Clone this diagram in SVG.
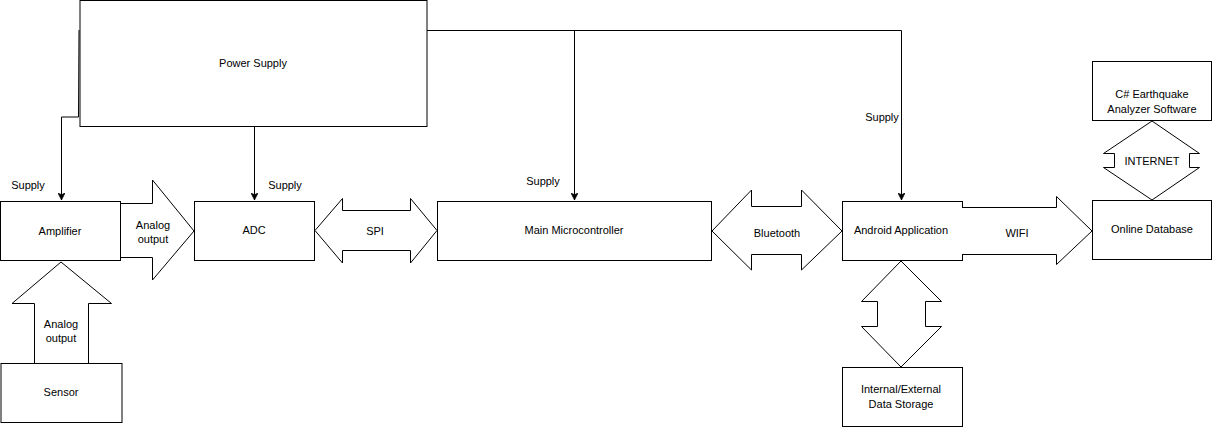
<svg xmlns="http://www.w3.org/2000/svg" width="1212" height="428" viewBox="0 0 1212 428">
<defs>
<style>
.box{fill:#fff;stroke:#000;stroke-width:1}
.arr{fill:#fff;stroke:#000;stroke-width:1;stroke-linejoin:miter}
.ln{fill:none;stroke:#000;stroke-width:1}
text{font-family:"Liberation Sans",Arial,sans-serif;font-size:11px;fill:#000;text-anchor:middle}
</style>
<marker id="ah" viewBox="0 0 10 10" refX="10" refY="5" markerWidth="7" markerHeight="7" orient="auto" markerUnits="userSpaceOnUse">
<path d="M0,0 L10,5 L0,10 L2.5,5 Z" fill="#000" stroke="#000"/>
</marker>
</defs>
<rect width="1212" height="428" fill="#fff"/>

<g id="connectors">
<path class="ln" d="M79,30 L78.5,117 L61.5,117 L61.5,200" marker-end="url(#ah)"/>
<path class="ln" d="M254.5,126 L254.5,200" marker-end="url(#ah)"/>
<path class="ln" d="M427,30.5 L901.5,30.5 L901.5,200" marker-end="url(#ah)"/>
<path class="ln" d="M574.5,30.5 L574.5,200" marker-end="url(#ah)"/>
<text x="28" y="189">Supply</text>
<text x="285" y="189">Supply</text>
<text x="543" y="185">Supply</text>
<text x="882" y="121">Supply</text>
</g>

<g id="power-supply">
<rect class="box" x="80" y="0.5" width="347" height="126"/>
<text x="253" y="67">Power Supply</text>
</g>

<g id="amplifier">
<rect class="box" x="0.5" y="201.5" width="120" height="59"/>
<text x="60" y="235">Amplifier</text>
</g>

<g id="adc">
<rect class="box" x="194.5" y="201.5" width="120" height="59"/>
<text x="254" y="234">ADC</text>
</g>

<g id="main-microcontroller">
<rect class="box" x="437.5" y="201.5" width="274" height="59"/>
<text x="574" y="234">Main Microcontroller</text>
</g>

<g id="android-application">
<rect class="box" x="842.5" y="201.5" width="120" height="59"/>
<text x="901" y="234">Android Application</text>
</g>

<g id="online-database">
<rect class="box" x="1092.5" y="200.5" width="119" height="59"/>
<text x="1152" y="233">Online Database</text>
</g>

<g id="csharp-software">
<rect class="box" x="1092.5" y="61.5" width="119" height="59"/>
<text x="1152" y="98">C# Earthquake</text>
<text x="1152" y="113">Analyzer Software</text>
</g>

<g id="data-storage">
<rect class="box" x="842.5" y="367.5" width="120" height="59"/>
<text x="901" y="393">Internal/External</text>
<text x="901" y="408">Data Storage</text>
</g>

<g id="sensor">
<rect class="box" x="1" y="363.5" width="121" height="59"/>
<text x="61" y="396">Sensor</text>
</g>

<g id="arrow-analog-amp-adc">
<path class="arr" d="M121,203.5 L152.5,203.5 L152.5,180 L194,231 L152.5,280 L152.5,257.5 L121,257.5"/>
<text x="153" y="229">Analog</text>
<text x="153" y="243">output</text>
</g>

<g id="arrow-analog-sensor-amp">
<path class="arr" d="M34.5,363 L34.5,303.5 L12,303.5 L61,262 L111.5,303.5 L88.5,303.5 L88.5,363"/>
<text x="61" y="328">Analog</text>
<text x="61" y="342">output</text>
</g>

<g id="arrow-spi">
<path class="arr" d="M315,230.5 L342.5,198.5 L342.5,210.5 L410.5,210.5 L410.5,198.5 L437,230.5 L410.5,263 L410.5,250.5 L342.5,250.5 L342.5,263 Z"/>
<text x="375" y="235">SPI</text>
</g>

<g id="arrow-bluetooth">
<path class="arr" d="M712,231 L751.5,190 L751.5,206.5 L801.5,206.5 L801.5,190 L842,231 L801.5,270 L801.5,254.5 L751.5,254.5 L751.5,270 Z"/>
<text x="777" y="237">Bluetooth</text>
</g>

<g id="arrow-wifi">
<path class="arr" d="M962,207.5 L1056.5,207.5 L1056.5,196.5 L1092,231 L1056.5,264.5 L1056.5,254.5 L962,254.5"/>
<text x="1017" y="237">WIFI</text>
</g>

<g id="arrow-storage">
<path class="arr" d="M901,261 L941.5,301.5 L925.5,301.5 L925.5,326.5 L941.5,326.5 L901,367 L861.5,326.5 L877.5,326.5 L877.5,301.5 L861.5,301.5 Z"/>
</g>

<g id="arrow-internet">
<path class="arr" d="M1152,121 L1199.5,153.5 L1189.5,153.5 L1189.5,167.5 L1199.5,167.5 L1152,200 L1103.5,167.5 L1114.5,167.5 L1114.5,153.5 L1103.5,153.5 Z"/>
<text x="1152" y="165">INTERNET</text>
</g>
</svg>
